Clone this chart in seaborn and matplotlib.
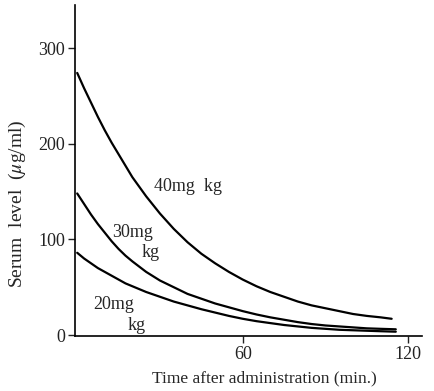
import matplotlib
matplotlib.use("Agg")
import matplotlib.pyplot as plt
import seaborn as sns
import pandas as pd

# Data (serum level in µg/ml vs minutes)
t_40 = [0, 2.5, 5, 7.5, 10, 12.5, 15, 17.5, 20, 25, 30, 35, 40, 45, 50, 55,
        60, 65, 70, 75, 80, 85, 90, 95, 100, 105, 110, 114]
v_40 = [274, 258, 243, 228, 214, 201, 189, 177, 165, 145, 127, 111, 97, 85,
        75, 66, 58, 51, 45, 40, 35, 31, 28, 25, 22, 20, 18.5, 17]
t_30 = [0, 2.5, 5, 7.5, 10, 12.5, 15, 17.5, 20, 25, 30, 35, 40, 45, 50, 55,
        60, 65, 70, 75, 80, 85, 90, 95, 100, 105, 110, 115.5]
v_30 = [148, 137, 126, 116, 107, 98, 90, 83, 77, 66, 57, 50, 43, 38, 33, 29,
        25, 21.5, 18.5, 16, 13.5, 11.5, 10, 9, 8, 7, 6.5, 6]
t_20 = [0, 2.5, 5, 7.5, 10, 12.5, 15, 17.5, 20, 25, 30, 35, 40, 45, 50, 55,
        60, 65, 70, 75, 80, 85, 90, 95, 100, 105, 110, 115.5]
v_20 = [86, 80, 75, 70, 66, 62, 58, 54, 51, 45, 40, 35, 31, 27, 23.5, 20,
        17, 14.5, 12.5, 10.5, 9, 7.5, 6.5, 5.5, 5, 4.5, 4, 3.5]

doses = ["40mg/kg", "30mg/kg", "20mg/kg"]
x_ticks = [60, 120]
y_ticks = [0, 100, 200, 300]

df = pd.concat([
    pd.DataFrame({"time": t_40, "level": v_40, "dose": doses[0]}),
    pd.DataFrame({"time": t_30, "level": v_30, "dose": doses[1]}),
    pd.DataFrame({"time": t_20, "level": v_20, "dose": doses[2]}),
])

sns.set_style("ticks")
plt.rcParams["font.family"] = ["Liberation Serif", "DejaVu Serif"]
plt.rcParams["mathtext.fontset"] = "stix"

fig = plt.figure(figsize=(4.35, 3.91), dpi=100)
ax = fig.add_axes([75 / 435, 55 / 391, 347 / 435, 331 / 391])

sns.lineplot(data=df, x="time", y="level", hue="dose",
             palette=["black", "black", "black"], linewidth=1.6,
             legend=False, ax=ax, sort=False)

ax.set_xlim(-0.8, 125)
ax.set_ylim(-1, 345)
ax.set_xticks(x_ticks)
ax.set_yticks(y_ticks)
ax.tick_params(axis="both", labelsize=13, colors="#222222", length=5,
               width=1.0, direction="out", pad=2)
for s in ["top", "right"]:
    ax.spines[s].set_visible(False)
for s in ["left", "bottom"]:
    ax.spines[s].set_linewidth(1.2)
    ax.spines[s].set_color("black")

ax.set_xlabel("Time after administration (min.)", fontsize=12.5)
ax.set_ylabel(r"Serum  level  ($\mu$g/ml)", fontsize=14)
ax.xaxis.set_label_coords(0.545, -0.105)
ax.yaxis.set_label_coords(-0.135, 0.40)

# Curve labels
lab_fs = 13
ax.text(40, 155, "40mg  kg", fontsize=lab_fs, ha="center", va="center")
ax.text(20, 107, "30mg", fontsize=lab_fs, ha="center", va="center")
ax.text(26.6, 86, "kg", fontsize=lab_fs, ha="center", va="center")
ax.text(13.2, 32, "20mg", fontsize=lab_fs, ha="center", va="center")
ax.text(21.6, 10, "kg", fontsize=lab_fs, ha="center", va="center")

fig.savefig("out.png", dpi=100)
